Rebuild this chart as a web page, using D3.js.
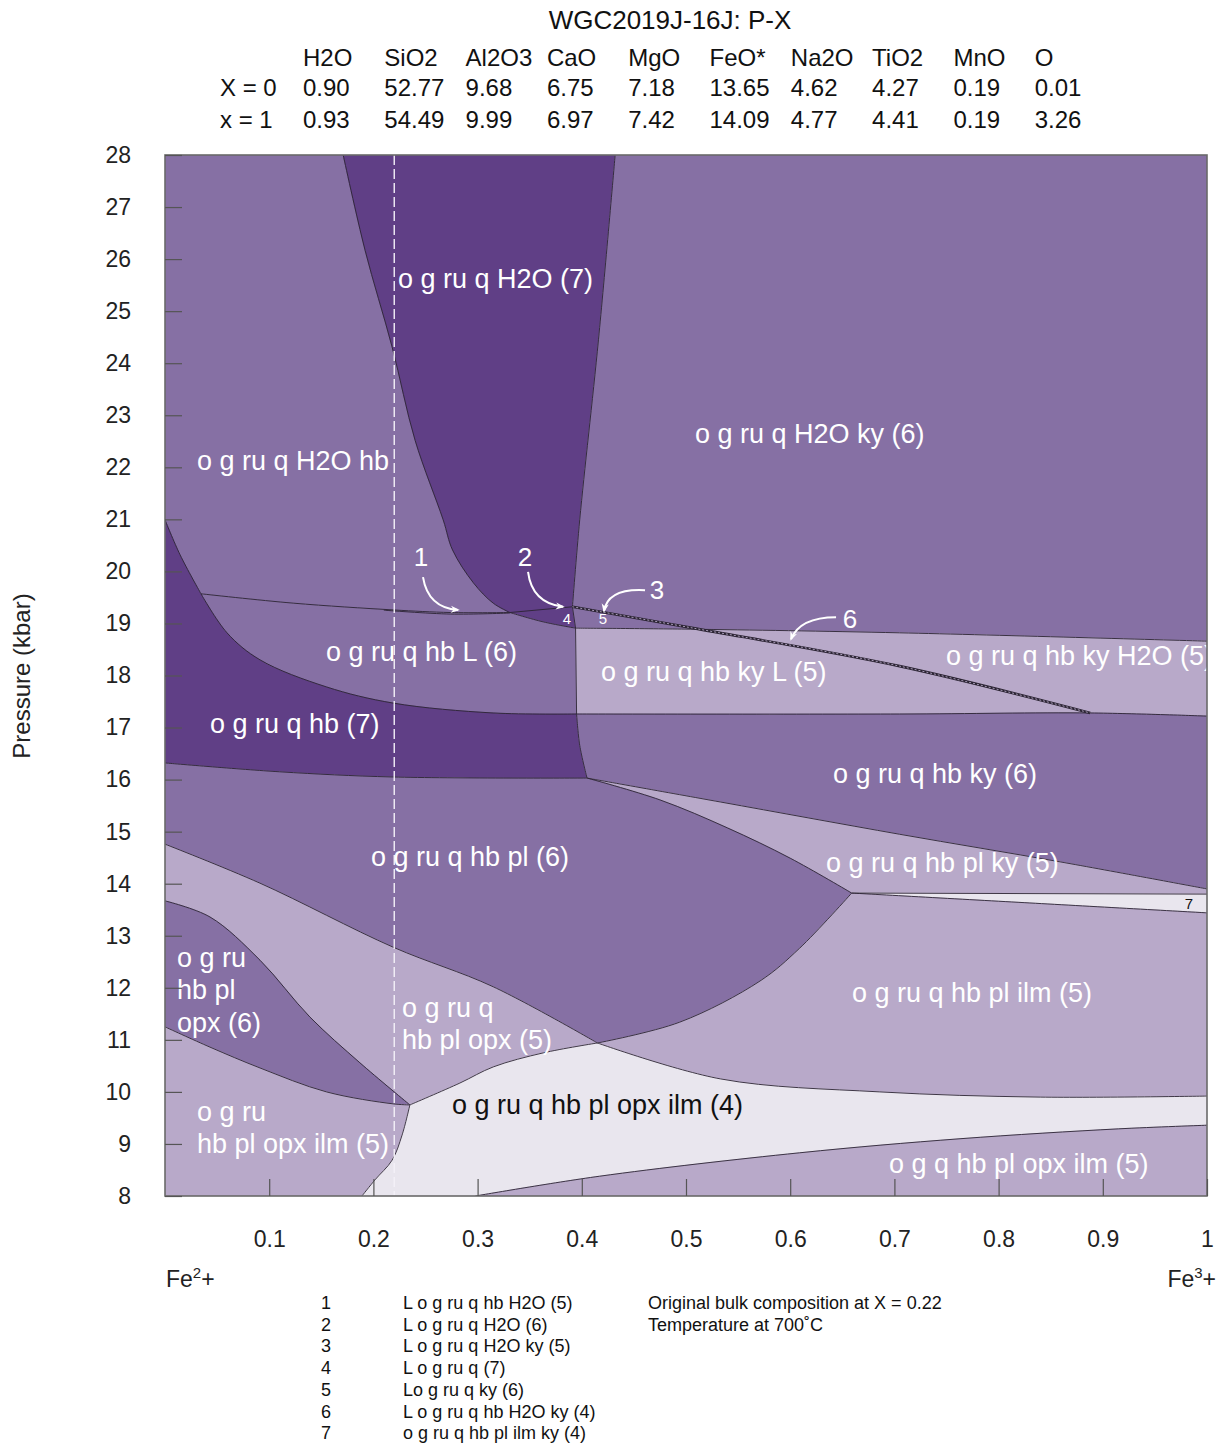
<!DOCTYPE html>
<html>
<head>
<meta charset="utf-8">
<script src="https://cdn.jsdelivr.net/npm/d3@7"></script>
<style>
  body { margin: 0; background: #fff; }
  svg { display: block; }
  text { font-family: "Liberation Sans", Arial, sans-serif; }
</style>
</head>
<body>
<svg id="chart" width="1224" height="1446"></svg>
<script>
// ---- bulk compositions (wt%) at the two ends of the section ----
const oxides = ["H2O", "SiO2", "Al2O3", "CaO", "MgO", "FeO*", "Na2O", "TiO2", "MnO", "O"];
const compX0 = ["0.90", "52.77", "9.68", "6.75", "7.18", "13.65", "4.62", "4.27", "0.19", "0.01"];
const compX1 = ["0.93", "54.49", "9.99", "6.97", "7.42", "14.09", "4.77", "4.41", "0.19", "3.26"];

// ---- axes ----
const pressureTicks = d3.range(8, 29);
const xTicks = [0.1, 0.2, 0.3, 0.4, 0.5, 0.6, 0.7, 0.8, 0.9, 1];
const bulkX = 0.22;

// ---- field boundaries, [X, P(kbar)] ----
const bndA  = [[0.171, 28], [0.192, 26.17], [0.218, 24.31], [0.240, 22.52], [0.267, 20.99], [0.276, 20.41], [0.296, 19.78], [0.315, 19.39], [0.331, 19.21]];
const bndB  = [[0.432, 28], [0.416, 24.45], [0.398, 20.99], [0.391, 19.32]];
const bndC  = [[0.0345, 19.57], [0.123, 19.39], [0.219, 19.26], [0.274, 19.21], [0.331, 19.21]];
const bndC2 = [[0.210, 19.255], [0.274, 19.18], [0.331, 19.20]];
const bndTop4 = [[0.331, 19.21], [0.391, 19.32]];
const bndW  = [[0.331, 19.21], [0.363, 19.03], [0.394, 18.91]];
const bndD1 = [[0.391, 19.32], [0.394, 18.91]];
const bndD2 = [[0.394, 18.91], [0.395, 17.26]];
const bndD3 = [[0.395, 17.26], [0.398, 16.66], [0.405, 16.03]];
const bndE1 = [[0, 20.99], [0.0144, 20.32], [0.0345, 19.57]];
const bndE2 = [[0.0345, 19.57], [0.0595, 18.82], [0.0912, 18.30], [0.155, 17.78], [0.219, 17.47], [0.315, 17.28], [0.395, 17.26]];
const bndF  = [[0, 16.32], [0.110, 16.15], [0.219, 16.05], [0.405, 16.03]];
const bndH  = [[0.394, 18.91], [0.504, 18.89], [0.705, 18.82], [1, 18.66]];
const bndI  = [[0.391, 19.32], [0.507, 18.91], [0.705, 18.18], [0.888, 17.28]];
const bndG  = [[0.395, 17.26], [0.705, 17.26], [0.888, 17.28], [1, 17.22]];
const bndJ  = [[0.405, 16.03], [0.533, 15.57], [0.705, 14.95], [0.859, 14.42], [1, 13.90]];
const bndK  = [[0.405, 16.03], [0.475, 15.61], [0.540, 15.07], [0.600, 14.49], [0.659, 13.82]];
const bndL  = [[0.659, 13.82], [1, 13.80]];
const bndM  = [[0.659, 13.82], [0.830, 13.63], [1, 13.44]];
const bndO  = [[0.659, 13.82], [0.609, 12.76], [0.571, 12.13], [0.494, 11.34], [0.415, 10.94]];
const bndN  = [[0.415, 10.94], [0.533, 10.25], [0.686, 10.00], [0.840, 9.90], [1, 9.92]];
const bndR  = [[0, 14.76], [0.0912, 14.01], [0.219, 12.78], [0.315, 12.02], [0.415, 10.94]];
const bndS  = [[0.235, 9.75], [0.283, 10.17], [0.315, 10.48], [0.363, 10.75], [0.415, 10.94]];
const bndT  = [[0, 13.67], [0.0432, 13.36], [0.0912, 12.53], [0.139, 11.44], [0.187, 10.56], [0.235, 9.75]];
const bndU  = [[0, 11.25], [0.0432, 10.86], [0.0912, 10.46], [0.155, 10.00], [0.219, 9.77], [0.235, 9.75]];
const bndV  = [[0.235, 9.75], [0.2275, 9.17], [0.218, 8.69], [0.2015, 8.31], [0.189, 8]];
const bndQ  = [[0.298, 8], [0.417, 8.38], [0.609, 8.83], [0.763, 9.10], [0.915, 9.29], [1, 9.36]];

const boundaries = {
  A: bndA, B: bndB, C: bndC, C2: bndC2, Top4: bndTop4, W: bndW, D1: bndD1, D2: bndD2, D3: bndD3,
  E1: bndE1, E2: bndE2, F: bndF, H: bndH, I: bndI, G: bndG, J: bndJ, K: bndK, L: bndL, M: bndM,
  O: bndO, N: bndN, R: bndR, S: bndS, T: bndT, U: bndU, V: bndV, Q: bndQ
};

// ---- assemblage fields: outline pieces ("-" = traversed backwards) and shade ----
const fields = [
  { shade: "mid",   parts: [[0, 28], "A", "-C", "-E1"] },
  { shade: "dark",  parts: ["A", "W", "-D1", "-B"] },
  { shade: "mid",   parts: ["B", "D1", "H", [1, 28]] },
  { shade: "mid",   parts: ["C", "W", "D2", "-E2"] },
  { shade: "light", parts: ["H", [1, 17.22], "-G", "-D2"] },
  { shade: "dark",  parts: ["E1", "E2", "D3", "-F"] },
  { shade: "mid",   parts: ["G", [1, 13.90], "-J", "-D3"] },
  { shade: "light", parts: ["J", [1, 13.80], "-L", "-K"] },
  { shade: "pale",  parts: ["L", [1, 13.44], "-M"] },
  { shade: "mid",   parts: [[0, 16.32], "F", "K", "O", "-R"] },
  { shade: "light", parts: ["M", [1, 9.92], "-N", "-O"] },
  { shade: "light", parts: ["R", "-S", "-T"] },
  { shade: "mid",   parts: ["T", "-U"] },
  { shade: "light", parts: ["U", "V", [0, 8]] },
  { shade: "pale",  parts: ["-V", "S", "N", [1, 9.36], "-Q"] },
  { shade: "light", parts: ["Q", [1, 8]] }
];
const plainLines = ["A", "B", "C", "C2", "Top4", "W", "D1", "D2", "D3", "E1", "E2", "F", "H", "G", "J", "K", "L", "M", "O", "N", "R", "S", "T", "U", "V", "Q"];

// ---- field labels: text lines, start X, baseline P, ink ----
const fieldLabels = [
  { lines: ["o g ru q H2O (7)"], X: 0.2236, P: 25.44, ink: "w" },
  { lines: ["o g ru q H2O ky (6)"], X: 0.5086, P: 22.47, ink: "w" },
  { lines: ["o g ru q H2O hb"], X: 0.0307, P: 21.95, ink: "w" },
  { lines: ["o g ru q hb L (6)"], X: 0.1545, P: 18.28, ink: "w" },
  { lines: ["o g ru q hb ky L (5)"], X: 0.4184, P: 17.89, ink: "w" },
  { lines: ["o g ru q hb ky H2O (5)"], X: 0.7495, P: 18.20, ink: "w" },
  { lines: ["o g ru q hb (7)"], X: 0.0432, P: 16.90, ink: "w" },
  { lines: ["o g ru q hb ky (6)"], X: 0.6411, P: 15.93, ink: "w" },
  { lines: ["o g ru q hb pl (6)"], X: 0.1977, P: 14.34, ink: "w" },
  { lines: ["o g ru q hb pl ky (5)"], X: 0.6344, P: 14.22, ink: "w" },
  { lines: ["o g ru q hb pl ilm (5)"], X: 0.6593, P: 11.73, ink: "w" },
  { lines: ["o g ru", "hb pl", "opx (6)"], X: 0.0115, P: 12.40, ink: "w" },
  { lines: ["o g ru q", "hb pl opx (5)"], X: 0.2274, P: 11.44, ink: "w" },
  { lines: ["o g ru q hb pl opx ilm (4)"], X: 0.2754, P: 9.58, ink: "k" },
  { lines: ["o g ru", "hb pl opx ilm (5)"], X: 0.0307, P: 9.44, ink: "w" },
  { lines: ["o g q hb pl opx ilm (5)"], X: 0.6948, P: 8.44, ink: "w" }
];
// small numbered fields
const tinyLabels = [
  { t: "4", X: 0.3858, P: 18.99, ink: "w" },
  { t: "5", X: 0.4203, P: 18.99, ink: "w" },
  { t: "7", X: 0.9827, P: 13.51, ink: "k" }
];
// numbered callouts: number position and arrow (start, control, tip)
const callouts = [
  { t: "1", X: 0.2457, P: 20.10, arrow: [[0.2476, 19.89], [0.2524, 19.30], [0.2812, 19.26]] },
  { t: "2", X: 0.3455, P: 20.10, arrow: [[0.3484, 19.99], [0.3522, 19.39], [0.3820, 19.32]] },
  { t: "3", X: 0.4722, P: 19.47, arrow: [[0.4607, 19.64], [0.4251, 19.68], [0.4213, 19.24]] },
  { t: "6", X: 0.6574, P: 18.91, arrow: [[0.6440, 19.12], [0.6094, 19.12], [0.6008, 18.70]] }
];
// key to the numbered fields
const keyNumbers = ["1", "2", "3", "4", "5", "6", "7"];
const keyText = [
  "L o g ru q hb H2O (5)",
  "L o g ru q H2O (6)",
  "L o g ru q H2O ky (5)",
  "L o g ru q (7)",
  "Lo g ru q ky (6)",
  "L o g ru q hb H2O ky (4)",
  "o g ru q hb pl ilm ky (4)"
];
const notes = ["Original bulk composition at X = 0.22", "Temperature at 700˚C"];

// ---- drawing ----
const shades = { dark: "#603f86", mid: "#8670a4", light: "#b8a9c9", pale: "#e9e6ee" };
const inks = { w: "#ffffff", k: "#111111" };
const plot = { left: 165, right: 1207, top: 155, bottom: 1196 };

const svg = d3.select("#chart");
const x = d3.scaleLinear().domain([0, 1]).range([plot.left, plot.right]);
const y = d3.scaleLinear().domain([8, 28]).range([plot.bottom, plot.top]);

const curve = d3.line()
  .x(d => x(d[0])).y(d => y(d[1]))
  .curve(d3.curveCatmullRom.alpha(0.5));

function outline(parts) {
  let s = "";
  parts.forEach(p => {
    let piece;
    if (typeof p === "string") {
      const rev = p[0] === "-";
      const pts = boundaries[rev ? p.slice(1) : p].slice();
      if (rev) pts.reverse();
      piece = curve(pts);
    } else {
      piece = `M${x(p[0])},${y(p[1])}`;
    }
    s += s ? piece.replace(/^M/, "L") : piece;
  });
  return s + "Z";
}

const defs = svg.append("defs");
defs.append("clipPath").attr("id", "plotClip")
  .append("rect")
  .attr("x", plot.left).attr("y", plot.top)
  .attr("width", plot.right - plot.left).attr("height", plot.bottom - plot.top);
defs.append("marker")
  .attr("id", "head").attr("viewBox", "0 0 10 10")
  .attr("refX", 8).attr("refY", 5)
  .attr("markerWidth", 9).attr("markerHeight", 9)
  .attr("markerUnits", "userSpaceOnUse")
  .attr("orient", "auto")
  .append("path").attr("d", "M0,1 L10,5 L0,9 L3,5 Z").attr("fill", "#fff");

const area = svg.append("g").attr("clip-path", "url(#plotClip)");

area.selectAll("path.field")
  .data(fields).join("path")
  .attr("class", "field")
  .attr("d", d => outline(d.parts))
  .attr("fill", d => shades[d.shade])
  .attr("stroke", d => shades[d.shade])
  .attr("stroke-width", 0.6);

area.selectAll("path.bnd")
  .data(plainLines).join("path")
  .attr("class", "bnd")
  .attr("d", k => curve(boundaries[k]))
  .attr("fill", "none")
  .attr("stroke", "#2b2433")
  .attr("stroke-width", 0.9);

// narrow field 6 drawn as a hatched band
area.append("path").attr("d", curve(bndI))
  .attr("fill", "none").attr("stroke", "#2b2433").attr("stroke-width", 2.6);
area.append("path").attr("d", curve(bndI))
  .attr("fill", "none").attr("stroke", "#a99bb9").attr("stroke-width", 1)
  .attr("stroke-dasharray", "2,2");

// original bulk composition
area.append("line")
  .attr("x1", x(bulkX)).attr("x2", x(bulkX))
  .attr("y1", y(28)).attr("y2", y(8))
  .attr("stroke", "#f4f1f8").attr("stroke-width", 1.4)
  .attr("stroke-dasharray", "10,4");

// field labels
const lab = area.append("g");
fieldLabels.forEach(f => {
  const t = lab.append("text")
    .attr("x", x(f.X)).attr("y", y(f.P))
    .attr("font-size", 27)
    .attr("fill", inks[f.ink]);
  f.lines.forEach((ln, i) => {
    t.append("tspan").attr("x", x(f.X)).attr("dy", i === 0 ? 0 : "1.2em").text(ln);
  });
});
lab.selectAll("text.tiny")
  .data(tinyLabels).join("text")
  .attr("class", "tiny")
  .attr("x", d => x(d.X)).attr("y", d => y(d.P))
  .attr("text-anchor", "middle")
  .attr("font-size", 15)
  .attr("fill", d => inks[d.ink])
  .text(d => d.t);

// callouts
callouts.forEach(c => {
  lab.append("text")
    .attr("x", x(c.X)).attr("y", y(c.P))
    .attr("text-anchor", "middle")
    .attr("font-size", 26)
    .attr("fill", "#fff")
    .text(c.t);
  const [s, k, e] = c.arrow;
  lab.append("path")
    .attr("d", `M${x(s[0])},${y(s[1])} Q${x(k[0])},${y(k[1])} ${x(e[0])},${y(e[1])}`)
    .attr("fill", "none").attr("stroke", "#fff").attr("stroke-width", 2)
    .attr("marker-end", "url(#head)");
});

// frame
svg.append("rect")
  .attr("x", plot.left).attr("y", plot.top)
  .attr("width", plot.right - plot.left).attr("height", plot.bottom - plot.top)
  .attr("fill", "none").attr("stroke", "#6a6a6a").attr("stroke-width", 1.6);

// axes
const axisFont = "'Open Sans', 'DejaVu Sans', sans-serif";
const yAxis = svg.append("g")
  .attr("transform", `translate(${plot.left},0)`)
  .call(d3.axisLeft(y).tickValues(pressureTicks).tickSize(-17).tickPadding(34).tickFormat(d3.format("d")));
const xAxis = svg.append("g")
  .attr("transform", `translate(0,${plot.bottom})`)
  .call(d3.axisBottom(x).tickValues(xTicks).tickSize(-17).tickPadding(35)
    .tickFormat(d => d === 1 ? "1" : d3.format(".1f")(d)));
[yAxis, xAxis].forEach(a => {
  a.select(".domain").remove();
  a.selectAll(".tick line").attr("stroke", "#555").attr("stroke-width", 1.2);
  a.selectAll(".tick text").attr("font-family", axisFont).attr("font-size", 23).attr("fill", "#222");
});

svg.append("text")
  .attr("transform", "translate(30,676) rotate(-90)")
  .attr("text-anchor", "middle")
  .attr("font-family", axisFont).attr("font-size", 24).attr("fill", "#222")
  .text("Pressure (kbar)");

// end-member labels with superscript charge
function ionLabel(xPos, anchor, charge) {
  const t = svg.append("text")
    .attr("x", xPos).attr("y", 1287).attr("text-anchor", anchor)
    .attr("font-family", axisFont).attr("font-size", 23).attr("fill", "#222");
  t.append("tspan").text("Fe");
  t.append("tspan").attr("font-size", 15).attr("dy", -9).text(charge);
  t.append("tspan").attr("dy", 9).text("+");
}
ionLabel(166, "start", "2");
ionLabel(1216, "end", "3");

// title and composition table
svg.append("text")
  .attr("x", 670).attr("y", 29).attr("text-anchor", "middle")
  .attr("font-size", 26).attr("fill", "#111")
  .text("WGC2019J-16J: P-X");
const colX = i => 303 + i * 81.3;
const head = svg.append("g").attr("font-size", 24).attr("fill", "#111");
head.selectAll("text.ox").data(oxides).join("text").attr("class", "ox")
  .attr("x", (d, i) => colX(i)).attr("y", 66).text(d => d);
head.append("text").attr("x", 220).attr("y", 96).text("X = 0");
head.append("text").attr("x", 220).attr("y", 128).text("x = 1");
head.selectAll("text.c0").data(compX0).join("text").attr("class", "c0")
  .attr("x", (d, i) => colX(i)).attr("y", 96).text(d => d);
head.selectAll("text.c1").data(compX1).join("text").attr("class", "c1")
  .attr("x", (d, i) => colX(i)).attr("y", 128).text(d => d);

// key
const key = svg.append("g").attr("font-size", 18).attr("fill", "#111");
const keyY = i => 1309 + i * 21.7;
key.selectAll("text.kn").data(keyNumbers).join("text").attr("class", "kn")
  .attr("x", 326).attr("y", (d, i) => keyY(i)).attr("text-anchor", "middle").text(d => d);
key.selectAll("text.kt").data(keyText).join("text").attr("class", "kt")
  .attr("x", 403).attr("y", (d, i) => keyY(i)).text(d => d);
key.selectAll("text.nt").data(notes).join("text").attr("class", "nt")
  .attr("x", 648).attr("y", (d, i) => keyY(i)).text(d => d);
</script>
</body>
</html>
